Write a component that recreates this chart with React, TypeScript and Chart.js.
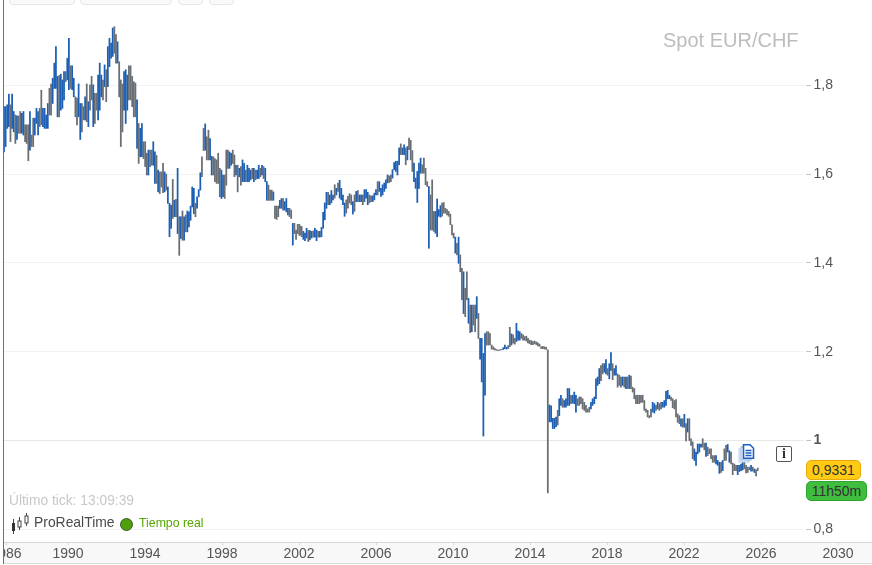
import React, { useEffect, useRef } from "react";
import { Chart, registerables } from "chart.js";

Chart.register(...registerables);

// Monthly EUR/CHF ranges, in three stretches
const highsEarly = [1.752,1.752,1.756,1.780,1.756,1.780,1.741,1.733,1.731,1.731,1.741,1.737,1.741,1.711,1.711,1.711,1.741,1.688,1.726,1.726,1.748,1.741,1.748,1.789,1.748,1.748,1.733,1.759,1.793,1.803,1.816,1.850,1.887,1.820,1.822,1.825,1.812,1.831,1.831,1.861,1.906,1.844,1.844,1.816,1.774,1.771,1.803,1.759,1.759,1.752,1.774,1.803,1.763,1.801,1.820,1.801,1.782,1.782,1.823,1.850,1.823,1.812,1.846,1.835,1.887,1.906,1.895,1.929,1.932,1.914,1.898,1.853,1.812,1.803,1.831,1.835,1.823,1.844,1.844,1.820,1.808,1.805,1.767,1.714,1.703,1.714,1.673,1.673,1.647,1.654,1.654,1.654,1.673,1.650,1.642,1.609,1.605,1.605,1.624,1.605,1.600,1.571,1.534,1.530,1.588,1.541,1.543,1.613,1.504,1.504,1.517,1.504,1.508,1.517,1.515,1.528,1.571,1.568,1.534,1.549,1.565,1.603,1.639,1.703,1.713,1.684,1.699,1.680,1.640,1.639,1.635,1.632,1.647,1.613,1.609,1.598,1.598,1.654,1.654,1.650,1.647,1.654,1.643,1.620,1.620,1.613,1.617,1.632,1.624,1.609,1.620,1.613,1.609,1.613,1.613,1.609,1.609,1.620,1.613,1.620,1.617,1.613,1.583,1.575,1.564,1.564,1.560,1.528,1.528,1.528,1.541,1.545,1.545,1.538,1.545,1.523,1.523,1.519,1.489,1.489,1.474,1.487,1.487];
const lowsEarly = [1.650,1.662,1.703,1.707,1.673,1.703,1.695,1.669,1.678,1.692,1.692,1.692,1.688,1.673,1.669,1.630,1.654,1.662,1.662,1.688,1.714,1.688,1.707,1.711,1.707,1.703,1.703,1.703,1.733,1.733,1.759,1.793,1.793,1.729,1.729,1.744,1.748,1.767,1.808,1.812,1.790,1.793,1.790,1.774,1.729,1.711,1.729,1.678,1.695,1.722,1.722,1.718,1.707,1.744,1.767,1.707,1.714,1.744,1.722,1.744,1.774,1.767,1.797,1.763,1.797,1.842,1.861,1.865,1.872,1.850,1.850,1.774,1.662,1.695,1.744,1.714,1.744,1.767,1.767,1.752,1.729,1.729,1.658,1.624,1.639,1.639,1.635,1.617,1.598,1.598,1.617,1.620,1.620,1.579,1.579,1.560,1.556,1.571,1.558,1.560,1.564,1.534,1.459,1.478,1.500,1.504,1.504,1.466,1.417,1.455,1.451,1.451,1.470,1.470,1.481,1.496,1.526,1.511,1.504,1.523,1.549,1.564,1.594,1.653,1.654,1.632,1.632,1.632,1.598,1.598,1.583,1.579,1.579,1.549,1.545,1.549,1.545,1.575,1.613,1.613,1.620,1.624,1.594,1.598,1.560,1.594,1.575,1.583,1.583,1.583,1.583,1.583,1.587,1.590,1.583,1.587,1.590,1.590,1.594,1.598,1.590,1.583,1.541,1.541,1.541,1.541,1.541,1.500,1.498,1.504,1.523,1.523,1.519,1.519,1.515,1.508,1.504,1.500,1.440,1.466,1.453,1.466,1.462];
const upsEarly = "uuuuduududduudddudduuudduuuudduuuuduuuduuduudduuddududdudduuududuuuudduddduuuddddduduudddudduududdduduuudududududuuuuuduuuddudduuddddduuddduuddududuuduuududuududuuddduddduuduuuddud";

const highsMiddle = [1.483,1.482,1.471,1.467,1.478,1.473,1.473,1.471,1.472,1.478,1.474,1.471,1.471,1.480,1.514,1.535,1.559,1.559,1.553,1.563,1.553,1.576,1.568,1.580,1.586,1.568,1.553,1.535,1.542,1.550,1.556,1.553,1.538,1.553,1.561,1.563,1.553,1.553,1.553,1.565,1.565,1.559,1.553,1.551,1.551,1.557,1.565,1.583,1.583,1.568,1.576,1.580,1.587,1.598,1.596,1.598,1.610,1.626,1.629,1.629,1.659,1.668,1.659,1.666,1.659,1.662,1.681,1.676,1.653,1.625,1.591,1.606,1.625,1.636,1.621,1.636,1.613,1.583,1.572,1.553,1.587,1.516,1.516,1.544,1.520,1.529,1.535,1.536,1.523,1.520,1.516,1.510,1.486,1.467,1.458,1.444,1.458,1.418,1.388,1.380,1.343,1.380,1.320,1.305,1.305,1.305,1.305,1.324,1.286,1.230,1.230,1.196,1.241,1.245,1.245,1.241,1.215,1.211,1.207,1.205,1.2035,1.2045,1.205,1.209,1.215,1.210,1.214,1.255,1.240,1.238,1.230,1.264,1.247,1.245,1.241,1.238,1.234,1.235,1.230,1.226,1.225,1.223,1.224,1.222,1.220,1.217,1.211,1.212,1.211,1.210,1.204,1.080,1.078,1.050,1.050,1.053,1.068];
const lowsMiddle = [1.463,1.459,1.453,1.450,1.456,1.448,1.452,1.456,1.458,1.458,1.450,1.458,1.458,1.459,1.478,1.497,1.523,1.531,1.531,1.535,1.542,1.546,1.553,1.561,1.546,1.542,1.531,1.505,1.512,1.523,1.535,1.531,1.510,1.516,1.538,1.538,1.538,1.538,1.531,1.538,1.546,1.531,1.535,1.538,1.538,1.542,1.553,1.553,1.561,1.550,1.553,1.561,1.568,1.580,1.581,1.583,1.591,1.610,1.606,1.598,1.621,1.644,1.644,1.644,1.621,1.632,1.655,1.632,1.606,1.583,1.568,1.536,1.568,1.602,1.602,1.602,1.576,1.572,1.433,1.474,1.474,1.471,1.467,1.459,1.505,1.503,1.505,1.512,1.512,1.508,1.505,1.486,1.463,1.456,1.422,1.418,1.399,1.380,1.317,1.286,1.279,1.317,1.264,1.243,1.245,1.260,1.245,1.275,1.230,1.183,1.132,1.010,1.102,1.215,1.215,1.215,1.206,1.205,1.204,1.203,1.2025,1.2035,1.204,1.205,1.207,1.206,1.207,1.211,1.215,1.219,1.217,1.223,1.226,1.226,1.230,1.226,1.226,1.224,1.220,1.218,1.216,1.216,1.218,1.216,1.213,1.212,1.207,1.207,1.206,1.205,0.882,1.042,1.042,1.027,1.027,1.031,1.035];
const upsMiddle = "dduuuduuduuduuuuuduuududuuuuddddududuuduuudduuuduuuuuudduuuuuduududdduuuuudddduddduuuuddddddddududduddududduduuuudddddddddduuuddudduuuddddddddddddddddduuuuu";

const highsLate = [1.094,1.102,1.094,1.090,1.094,1.117,1.117,1.102,1.102,1.109,1.102,1.094,1.098,1.098,1.094,1.086,1.079,1.071,1.075,1.086,1.094,1.098,1.139,1.143,1.162,1.169,1.173,1.173,1.182,1.162,1.173,1.198,1.173,1.162,1.169,1.150,1.147,1.143,1.143,1.143,1.143,1.143,1.147,1.145,1.120,1.117,1.102,1.102,1.102,1.102,1.102,1.090,1.071,1.068,1.056,1.071,1.086,1.083,1.079,1.086,1.083,1.086,1.086,1.090,1.111,1.113,1.102,1.098,1.094,1.090,1.092,1.060,1.056,1.049,1.049,1.059,1.038,1.049,1.049,1.004,0.997,0.981,0.974,0.992,0.992,0.992,1.004,0.994,0.994,0.985,0.981,0.981,0.966,0.966,0.966,0.955,0.951,0.951,0.955,0.981,0.989,0.991,0.977,0.974,0.949,0.947,0.944,0.944,0.944,0.947,0.951,0.964,0.944,0.940,0.940,0.944,0.940,0.936,0.934,0.938];
const lowsLate = [1.056,1.079,1.075,1.075,1.075,1.079,1.079,1.083,1.084,1.083,1.064,1.079,1.079,1.083,1.071,1.068,1.064,1.064,1.064,1.071,1.079,1.083,1.094,1.124,1.128,1.135,1.150,1.154,1.150,1.147,1.139,1.158,1.137,1.147,1.147,1.120,1.124,1.120,1.124,1.120,1.117,1.117,1.117,1.117,1.109,1.094,1.083,1.083,1.083,1.086,1.086,1.068,1.064,1.053,1.051,1.053,1.064,1.062,1.068,1.071,1.068,1.071,1.075,1.075,1.079,1.094,1.094,1.090,1.074,1.071,1.053,1.041,1.038,1.032,1.030,1.030,0.999,1.019,1.000,0.989,0.959,0.955,0.944,0.970,0.974,0.985,0.985,0.979,0.964,0.966,0.970,0.959,0.951,0.951,0.947,0.944,0.926,0.928,0.932,0.955,0.955,0.974,0.951,0.947,0.923,0.932,0.932,0.923,0.930,0.932,0.934,0.936,0.927,0.928,0.934,0.931,0.931,0.928,0.920,0.932];
const upsLate = "uuduuuuduuudddddddduuuuuudduuduuduudddudududdddddddddddduududduuuuuddddddudududdduuuuudduddddduuududduudddduuuuddddudu";

// First and last year of each stretch
const yearSpans = [
  [1986.675, 2002.016],
  [2002.052, 2015.44],
  [2015.52, 2025.83],
];

const xTickLabels = [1986, 1990, 1994, 1998, 2002, 2006, 2010, 2014, 2018, 2022, 2026, 2030];
const yTickValues = [0.8, 1, 1.2, 1.4, 1.6, 1.8];

const BLUE = "#1c5fb4";
const GRAY = "#696e74";

function stretch(highs: number[], lows: number[], ups: string, span: number[]) {
  return highs.map((h, i) => ({
    x: span[0] + ((span[1] - span[0]) * i) / (highs.length - 1),
    y: [lows[i], h],
    up: ups.charAt(i) === "u",
  }));
}

const bars = [
  ...stretch(highsEarly, lowsEarly, upsEarly, yearSpans[0]),
  ...stretch(highsMiddle, lowsMiddle, upsMiddle, yearSpans[1]),
  ...stretch(highsLate, lowsLate, upsLate, yearSpans[2]),
];

const frame = {
  id: "frame",
  beforeDraw(chart: any) {
    const { ctx, width } = chart;
    const { bottom } = chart.chartArea;
    ctx.save();
    ctx.fillStyle = "#f8f8f8";
    ctx.fillRect(0, bottom, width, 21);
    ctx.fillStyle = "#dcdcdc";
    ctx.fillRect(0, bottom + 21, width, 1);
    ctx.restore();
  },
  beforeDatasetsDraw(chart: any) {
    const { ctx } = chart;
    const y = chart.scales.y;
    ctx.save();
    yTickValues.forEach((v) => {
      const py = Math.floor(y.getPixelForValue(v)) + 0.5;
      ctx.strokeStyle = v === 1 ? "#e8e8e8" : "#f2f2f2";
      ctx.lineWidth = 1;
      ctx.beginPath();
      ctx.moveTo(4, py);
      ctx.lineTo(804, py);
      ctx.stroke();
      ctx.strokeStyle = "#c4c4c4";
      ctx.beginPath();
      ctx.moveTo(806, py);
      ctx.lineTo(811, py);
      ctx.stroke();
    });
    ctx.restore();
  },
  afterDraw(chart: any) {
    const { ctx, height } = chart;
    ctx.save();
    ctx.fillStyle = "#ffffff";
    ctx.fillRect(0, 0, 3, height);
    ctx.restore();
  },
};

const boxStyle = (left: number, width: number): React.CSSProperties => ({
  position: "absolute",
  left,
  width,
  top: -6,
  height: 11,
  boxSizing: "border-box",
  border: "1px solid #e6e6e6",
  borderRadius: 4,
  background: "#f9f9f9",
});

const text = (extra: React.CSSProperties): React.CSSProperties => ({
  position: "absolute",
  fontFamily: "'Liberation Sans', Arial, sans-serif",
  whiteSpace: "nowrap",
  lineHeight: 1,
  ...extra,
});

const badge = (top: number, width: number, bg: string, border: string): React.CSSProperties => ({
  position: "absolute",
  left: 806,
  top,
  width,
  height: 20,
  boxSizing: "border-box",
  background: bg,
  border: `1px solid ${border}`,
  borderRadius: 5,
  color: "#333",
  fontFamily: "'Liberation Sans', Arial, sans-serif",
  fontSize: 14,
  lineHeight: "18px",
  textAlign: "center",
});

export default function App() {
  const ref = useRef<HTMLCanvasElement>(null);
  useEffect(() => {
    const pxYear = 19.25;
    const chart = new Chart(ref.current as HTMLCanvasElement, {
      type: "bar",
      data: {
        datasets: [
          {
            data: bars as any,
            backgroundColor: bars.map((b) => (b.up ? BLUE : GRAY)),
            barThickness: 1.1,
            grouped: false,
            borderSkipped: false,
          } as any,
        ],
      },
      plugins: [frame],
      options: {
        animation: false,
        responsive: false,
        devicePixelRatio: 1,
        layout: { padding: 0 },
        plugins: { legend: { display: false }, tooltip: { enabled: false } },
        scales: {
          x: {
            type: "linear",
            position: "bottom",
            offset: false,
            min: 1990 - 68 / pxYear,
            max: 1990 + (872 - 68) / pxYear,
            afterBuildTicks: (axis: any) => {
              axis.ticks = xTickLabels.map((v) => ({ value: v === 1986 ? 1986.78 : v }));
            },
            afterFit: (axis: any) => {
              axis.height = 23;
              axis.paddingLeft = 0;
              axis.paddingRight = 0;
            },
            grid: { drawOnChartArea: false, offset: false, tickLength: 3, color: "#d6d6d6" },
            border: { display: true, color: "#d8d8d8" },
            ticks: {
              autoSkip: false,
              maxRotation: 0,
              minRotation: 0,
              padding: 1,
              color: "#555555",
              font: { family: "'Liberation Sans', Arial, sans-serif", size: 14 },
              callback: (v: any) => String(Math.floor(Number(v))),
            },
          },
          y: {
            type: "linear",
            position: "right",
            min: 1 - 101.5 / 444,
            max: 1 + 440.5 / 444,
            afterBuildTicks: (axis: any) => {
              axis.ticks = yTickValues.map((v) => ({ value: v }));
            },
            afterFit: (axis: any) => {
              axis.width = 0;
              axis.paddingTop = 0;
              axis.paddingBottom = 0;
            },
            grid: { display: false },
            border: { display: false },
            ticks: {
              mirror: true,
              crossAlign: "far",
              padding: -39,
              color: "#555555",
              font: (c: any) => ({
                family: "'Liberation Sans', Arial, sans-serif",
                size: 14,
                weight: c.tick && c.tick.value === 1 ? "bold" : "normal",
              }),
              callback: (v: any) => String(v).replace(".", ","),
            },
          },
        },
      } as any,
    });
    return () => chart.destroy();
  }, []);

  return (
    <div style={{ position: "absolute", left: 0, top: 0, width: 872, height: 565, overflow: "hidden", background: "#fff" }}>
      <canvas ref={ref} width={872} height={565} style={{ display: "block" }} />
      <div style={{ position: "absolute", left: 3, top: 0, width: 1, height: 564, background: "#2a7fd6" }} />
      <div style={boxStyle(9, 66)} />
      <div style={boxStyle(80, 92)} />
      <div style={boxStyle(178, 25)} />
      <div style={boxStyle(209, 25)} />
      <div style={text({ left: 663, top: 30, fontSize: 20, color: "#bdbdbd" })}>Spot EUR/CHF</div>
      <div style={text({ left: 9, top: 494, fontSize: 13.8, color: "#c8c8c8" })}>Último tick: 13:09:39</div>
      <svg style={{ position: "absolute", left: 10, top: 513 }} width={20} height={22} viewBox="0 0 20 22">
        <path d="M3.5 6v15M9.5 4v13M16.5 0v13" stroke="#444" strokeWidth="1" />
        <rect x="2" y="10" width="3" height="8" fill="#333" />
        <rect x="8" y="8" width="3" height="6" fill="#fff" stroke="#444" />
        <rect x="15" y="3" width="3" height="7" fill="#fff" stroke="#444" />
      </svg>
      <div style={text({ left: 34, top: 516, fontSize: 13.9, color: "#4a4a4a" })}>ProRealTime</div>
      <div style={{ position: "absolute", left: 120, top: 518, width: 13, height: 13, boxSizing: "border-box", borderRadius: "50%", background: "#4d9f0c", border: "1px solid #3c5a2a" }} />
      <div style={text({ left: 139, top: 517, fontSize: 12.3, color: "#55a800" })}>Tiempo real</div>
      <svg style={{ position: "absolute", left: 738, top: 444 }} width={17} height={19} viewBox="0 0 17 19">
        <rect x="1" y="5" width="10" height="13" fill="#eaf1fb" stroke="#b9cff0" />
        <rect x="3" y="3" width="10" height="13" fill="#f3f7fd" stroke="#8fb2e6" />
        <path d="M5.5 .8h6.5l3.5 3.5v10h-10z" fill="#fff" stroke="#1f5fc0" strokeWidth="1.6" />
        <path d="M7.5 6.5h6M7.5 9h6M7.5 11.5h6" stroke="#1f5fc0" strokeWidth="1.3" />
      </svg>
      <div style={{ position: "absolute", left: 776, top: 446, width: 16, height: 16, boxSizing: "border-box", border: "1.5px solid #555", borderRadius: 2, textAlign: "center", fontFamily: "'Liberation Serif', serif", fontWeight: "bold", fontSize: 14, lineHeight: "13px", color: "#333", background: "#fff" }}>i</div>
      <div style={badge(460, 55, "#ffcb14", "#e9a90a")}>0,9331</div>
      <div style={badge(481, 61, "#3fbd3f", "#2fa52f")}>11h50m</div>
    </div>
  );
}
